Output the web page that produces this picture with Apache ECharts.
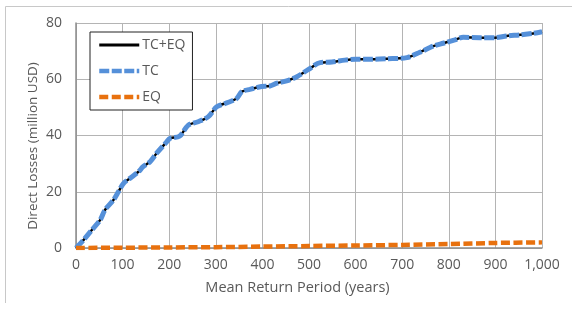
<!DOCTYPE html>
<html>
<head>
<meta charset="utf-8">
<script src="https://cdn.jsdelivr.net/npm/echarts@6/dist/echarts.min.js"></script>
<style>
  html, body { margin: 0; padding: 0; background: #fff; }
  #main { width: 572px; height: 313px; }
</style>
</head>
<body>
<div id="main"></div>
<script>
// return period (years) and losses
var tcYears = [0, 16, 34, 52, 62, 80, 91, 102, 116, 134, 144, 159, 173, 195, 202, 222, 241, 262, 284, 302, 327, 345, 356, 373, 398, 416, 431, 452, 474, 499, 524, 549, 577, 599, 631, 667, 710, 738, 767, 788, 813, 831, 867, 899, 924, 953, 981, 1000];
var tcLoss  = [0, 2.8, 6.4, 10, 13.5, 17, 20, 23, 24.8, 27.1, 28.9, 30.7, 33.7, 37.8, 39, 39.7, 43.7, 44.9, 46.7, 50.2, 51.8, 53.2, 55.6, 56.4, 57.4, 57.6, 58.6, 59.4, 60.9, 63.5, 65.9, 66.1, 66.8, 67.1, 67.1, 67.3, 67.7, 69.6, 71.8, 72.8, 74, 74.9, 74.8, 74.8, 75.4, 75.8, 76.3, 76.9];
// TC+EQ sits right under the TC line in the picture
var totalLoss = tcLoss.slice();

var eqYears = [0, 100, 200, 300, 400, 500, 600, 700, 800, 900, 1000];
var eqLoss  = [0, 0.1, 0.2, 0.3, 0.5, 0.7, 0.9, 1.1, 1.4, 1.8, 2.0];

function pairs(xs, ys) {
  var out = [];
  for (var i = 0; i < xs.length; i++) out.push([xs[i], ys[i]]);
  return out;
}

var font = 'Open Sans, Noto Sans, sans-serif';
var labelColor = '#595959';

var chart = echarts.init(document.getElementById('main'), null, { renderer: 'canvas' });

chart.setOption({
  animation: false,
  backgroundColor: '#fff',
  textStyle: { fontFamily: font },
  graphic: [{
    type: 'polyline',
    shape: { points: [[5.5, 303], [5.5, 6.5], [572, 6.5]] },
    style: { stroke: '#c8c8c8', lineWidth: 1, fill: null },
    silent: true
  }, {
    // y axis title
    type: 'text',
    x: 33, y: 146,
    rotation: Math.PI / 2,
    style: {
      text: 'Direct Losses (million USD)',
      fill: labelColor,
      font: '13.5px ' + font,
      align: 'center',
      verticalAlign: 'middle'
    },
    silent: true
  }],
  grid: { left: 76, right: 30, top: 23, bottom: 65 },
  legend: {
    orient: 'vertical',
    left: 90,
    top: 32,
    padding: [6, 7, 6, 7],
    itemWidth: 40,
    itemHeight: 14,
    itemGap: 12,
    borderColor: '#222',
    borderWidth: 1,
    backgroundColor: '#fff',
    itemStyle: { opacity: 0 },
    textStyle: { fontFamily: font, fontSize: 14, color: labelColor, padding: [0, 0, 0, -2] },
    data: [
      { name: 'TC+EQ', lineStyle: { width: 3 } },
      { name: 'TC', lineStyle: { width: 4.5 } },
      { name: 'EQ', lineStyle: { width: 4.5 } }
    ]
  },
  xAxis: {
    type: 'value',
    min: 0, max: 1000, interval: 100,
    name: 'Mean Return Period (years)',
    nameLocation: 'middle',
    nameGap: 32,
    nameTextStyle: { fontSize: 14.5, color: labelColor, fontFamily: font, padding: [0, 23, 0, 0] },
    axisLine: { show: true, lineStyle: { color: '#8c8c8c', width: 1.5 } },
    axisTick: { show: false },
    axisLabel: {
      fontSize: 14, color: labelColor, margin: 10,
      formatter: function (v) { return v >= 1000 ? '1,000' : String(v); }
    },
    splitLine: { show: true, lineStyle: { color: '#b4b4b4', width: 1 } }
  },
  yAxis: {
    type: 'value',
    min: 0, max: 80, interval: 20,
    axisLine: { show: true, lineStyle: { color: '#8c8c8c', width: 1.5 } },
    axisTick: { show: false },
    axisLabel: { fontSize: 14, color: labelColor, margin: 14 },
    splitLine: { show: true, lineStyle: { color: '#b4b4b4', width: 1 } }
  },
  series: [{
    name: 'TC+EQ',
    type: 'line',
    data: pairs(tcYears, totalLoss),
    smooth: 0.3,
    symbol: 'none',
    itemStyle: { color: '#000' },
    lineStyle: { color: '#000', width: 2.5 },
    z: 2
  }, {
    name: 'TC',
    type: 'line',
    data: pairs(tcYears, tcLoss),
    smooth: 0.3,
    symbol: 'none',
    itemStyle: { color: '#5590d9' },
    lineStyle: { color: '#5590d9', width: 5, type: [10, 2.5] },
    z: 3
  }, {
    name: 'EQ',
    type: 'line',
    data: pairs(eqYears, eqLoss),
    smooth: 0.3,
    symbol: 'none',
    itemStyle: { color: '#e8710e' },
    lineStyle: { color: '#e8710e', width: 4.5, type: [9, 3.5] },
    z: 4
  }]
});
</script>
</body>
</html>
